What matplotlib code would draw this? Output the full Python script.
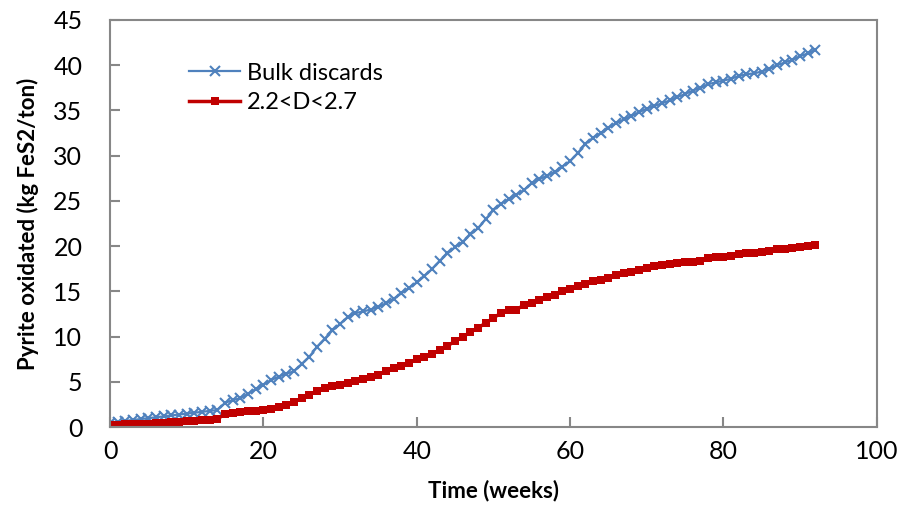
import matplotlib
matplotlib.use("Agg")
import matplotlib.pyplot as plt

plt.rcParams['font.family'] = ['Lato', 'DejaVu Sans']

# weeks 0..92
weeks = list(range(0, 93))

bulk_discards = [
    0.5, 0.6, 0.7, 0.8, 0.9, 1.0, 1.1, 1.2, 1.3, 1.4,
    1.5, 1.6, 1.7, 1.8, 1.9, 2.7, 3.0, 3.2, 3.7, 4.2,
    4.7, 5.2, 5.6, 5.9, 6.2, 7.0, 7.8, 8.9, 9.8, 10.7,
    11.4, 12.2, 12.6, 12.8, 13.0, 13.3, 13.7, 14.2, 14.8, 15.4,
    16.0, 16.7, 17.5, 18.4, 19.2, 19.9, 20.5, 21.3, 22.0, 23.0,
    24.0, 24.7, 25.2, 25.7, 26.2, 27.0, 27.4, 27.8, 28.2, 28.8,
    29.4, 30.3, 31.3, 32.0, 32.5, 33.1, 33.6, 34.0, 34.4, 34.8,
    35.2, 35.5, 35.8, 36.1, 36.5, 36.8, 37.2, 37.5, 37.9, 38.1,
    38.3, 38.5, 38.8, 39.0, 39.1, 39.3, 39.6, 40.0, 40.3, 40.6,
    41.0, 41.3, 41.7,
]

density_fraction = [
    0.2, 0.2, 0.3, 0.3, 0.4, 0.4, 0.5, 0.5, 0.6, 0.6,
    0.7, 0.7, 0.8, 0.8, 0.9, 1.5, 1.6, 1.7, 1.8, 1.8,
    1.9, 2.0, 2.2, 2.5, 2.8, 3.2, 3.6, 4.0, 4.3, 4.5,
    4.7, 4.9, 5.1, 5.3, 5.5, 5.8, 6.2, 6.5, 6.8, 7.1,
    7.5, 7.8, 8.1, 8.5, 9.0, 9.5, 10.0, 10.5, 11.0, 11.5,
    12.1, 12.6, 12.9, 13.0, 13.5, 13.7, 14.1, 14.4, 14.6, 15.0,
    15.3, 15.6, 15.8, 16.1, 16.3, 16.5, 16.8, 17.0, 17.1, 17.4,
    17.6, 17.8, 17.9, 18.0, 18.1, 18.3, 18.3, 18.4, 18.7, 18.8,
    18.8, 18.9, 19.1, 19.2, 19.3, 19.4, 19.5, 19.7, 19.7, 19.8,
    19.9, 20.0, 20.1,
]

x_ticks = [0, 20, 40, 60, 80, 100]
y_ticks = [0, 5, 10, 15, 20, 25, 30, 35, 40, 45]

fig = plt.figure(figsize=(9.03, 5.11), dpi=100)
ax = fig.add_axes([0.122, 0.164, 0.849, 0.797])

ax.plot(weeks, bulk_discards, color='#4F81BD', lw=1.6, marker='x',
        ms=7.5, mew=1.5, label='Bulk discards')
ax.plot(weeks, density_fraction, color='#C00000', lw=2.5, marker='s',
        ms=6.3, mew=0, label='2.2<D<2.7')

ax.set_xlim(0, 100)
ax.set_ylim(0, 45)
ax.set_xticks(x_ticks)
ax.set_yticks(y_ticks)

for side in ['left', 'right', 'top', 'bottom']:
    ax.spines[side].set_color('#878787')
    ax.spines[side].set_linewidth(1.5)
ax.tick_params(direction='in', length=7, width=1.5, color='#878787',
               labelsize=18, top=False, right=False)
ax.tick_params(axis='y', pad=20)
ax.tick_params(axis='x', pad=9)

ax.set_xlabel('Time (weeks)', fontsize=16, fontweight='bold', labelpad=12)
ax.set_ylabel('Pyrite oxidated (kg FeS2/ton)', fontsize=16,
              fontweight='bold', labelpad=10)

ax.legend(loc='upper left', bbox_to_anchor=(0.103, 0.895), frameon=False,
          fontsize=17, handlelength=2.15, handletextpad=0.3,
          labelspacing=0.35, borderaxespad=0, borderpad=0)

fig.savefig('out.png', dpi=100)
